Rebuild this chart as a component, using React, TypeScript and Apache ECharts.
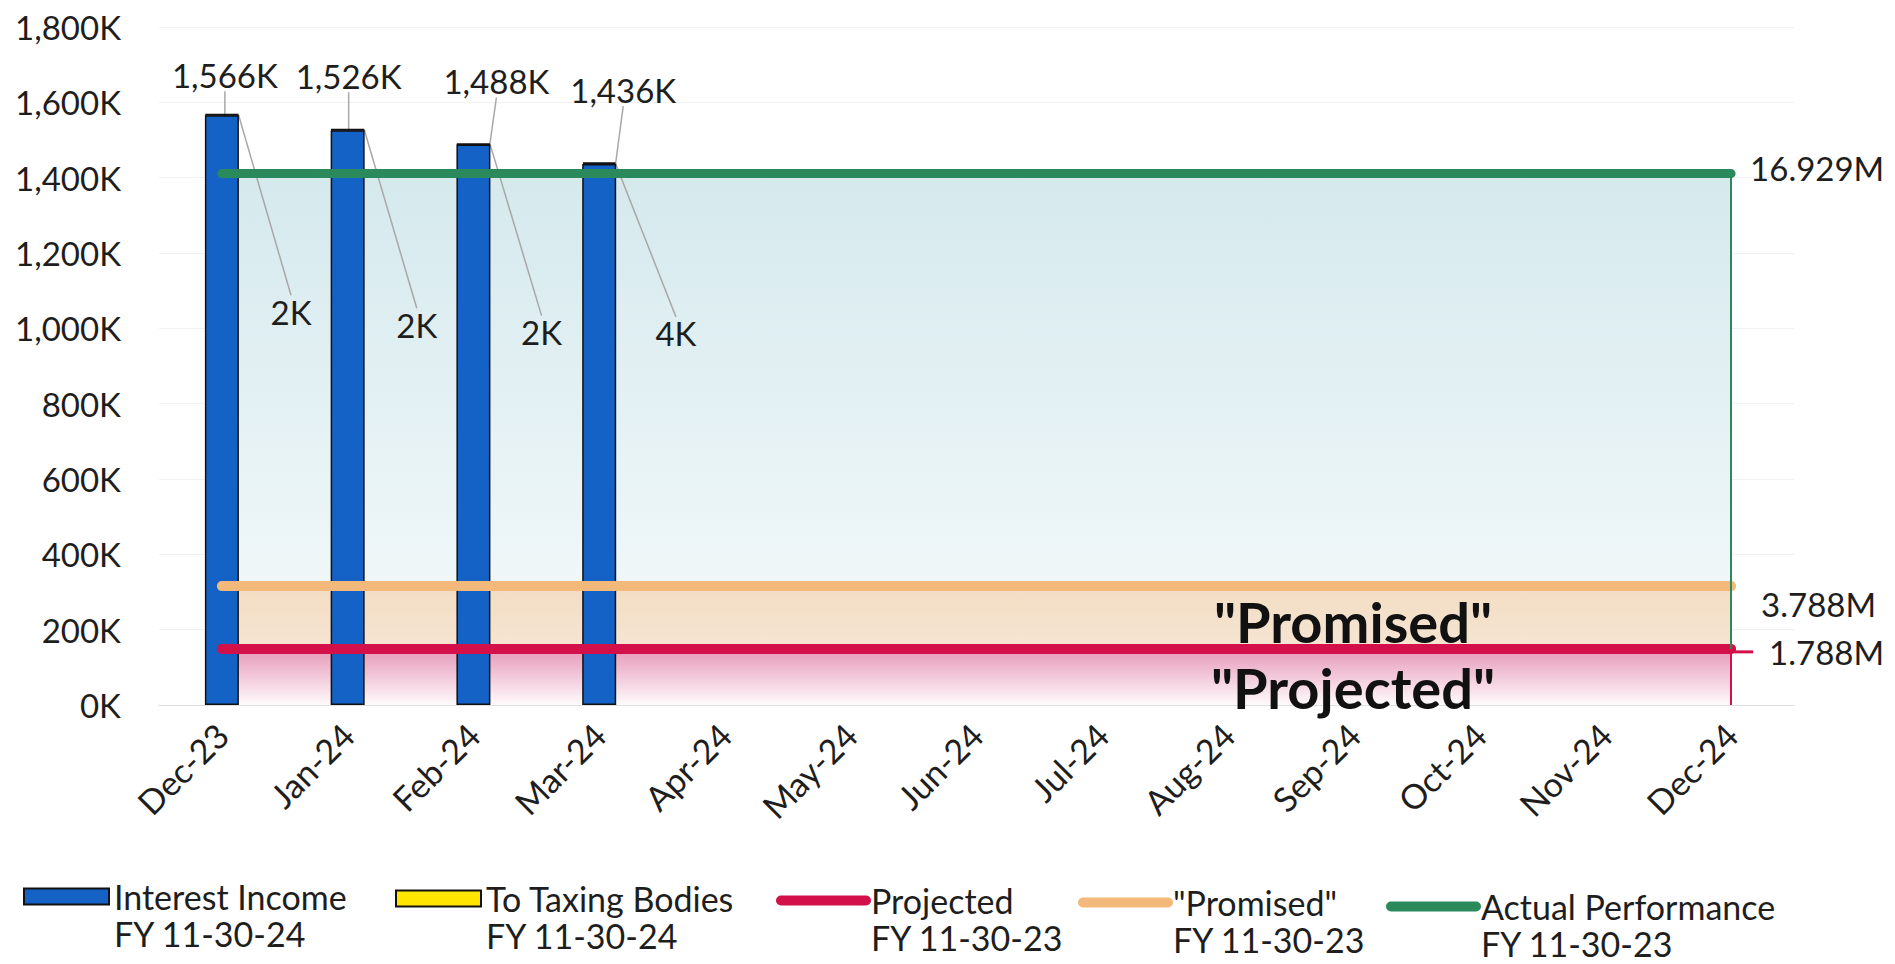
import React, { useEffect, useRef } from "react";
import * as echarts from "echarts";

const categories = ["Dec-23", "Jan-24", "Feb-24", "Mar-24", "Apr-24", "May-24", "Jun-24", "Jul-24", "Aug-24", "Sep-24", "Oct-24", "Nov-24", "Dec-24"];
const interestIncome = [1566000, 1526000, 1488000, 1436000, null, null, null, null, null, null, null, null, null];
const toTaxingBodies = [2000, 2000, 2000, 4000, null, null, null, null, null, null, null, null, null];
const projectedFY23 = [149000, 149000, 149000, 149000, 149000, 149000, 149000, 149000, 149000, 149000, 149000, 149000, 149000];
const promisedFY23 = [315667, 315667, 315667, 315667, 315667, 315667, 315667, 315667, 315667, 315667, 315667, 315667, 315667];
const actualFY23 = [1410750, 1410750, 1410750, 1410750, 1410750, 1410750, 1410750, 1410750, 1410750, 1410750, 1410750, 1410750, 1410750];
const totalLabels = { projected: "1.788M", promised: "3.788M", actual: "16.929M" };
const yMin = 0;
const yMax = 1800000;
const yInterval = 200000;
const names = {
  income: "Interest Income\nFY 11-30-24",
  taxing: "To Taxing Bodies\nFY 11-30-24",
  projected: "Projected\nFY 11-30-23",
  promised: "\"Promised\"\nFY 11-30-23",
  actual: "Actual Performance\nFY 11-30-23",
};
const legendOrder = [names.income, names.taxing, names.projected, names.promised, names.actual];
const bandTexts = ["\"Promised\"", "\"Projected\""];

const FONT = "Lato";
const TXT = "#1e1e1e";
const BLUE = "#1462c6";
const YELLOW = "#ffe500";
const RED = "#d4104a";
const ORANGE = "#f2b97a";
const GREEN = "#2a8a5c";

const incomeLabelOffsets = [[3, -19], [1, -33], [23, -42], [24, -53]];
const taxLabelOffsets = [[26, 197], [26, 195], [25, 188], [34, 170]];
const legendLefts = [18, 390, 771, 1073, 1381];
const legendTops = [836, 838, 840, 842, 846];

const fmtK = (v: number) => Math.round(v / 1000).toLocaleString("en-US") + "K";

function grad(top: string, bottom: string) {
  return new echarts.graphic.LinearGradient(0, 0, 0, 1, [
    { offset: 0, color: top },
    { offset: 1, color: bottom },
  ]);
}

function edge(values: number[], color: string) {
  const last = categories.length - 1;
  return {
    silent: true,
    symbol: "none",
    label: { show: false },
    lineStyle: { color, width: 2, type: "solid" },
    data: [[{ coord: [categories[last], values[last]] }, { coord: [categories[last], 0] }]],
  };
}

export default function App() {
  const ref = useRef<HTMLDivElement>(null);
  useEffect(() => {
    if (!ref.current) return;
    const chart = echarts.init(ref.current, undefined, { renderer: "svg" });
    const labelBase = { fontFamily: FONT, fontSize: 33, color: TXT };
    const legends = legendOrder.map((name, i) => ({
      left: legendLefts[i],
      top: legendTops[i],
      selectedMode: false,
      itemWidth: 85,
      itemHeight: 16,
      data: [i < 2 ? { name, icon: "rect" } : { name, itemStyle: { opacity: 0 } }],
      lineStyle: { width: 10, cap: "round" },
      formatter: (n: string) => "\n" + n,
      textStyle: { fontFamily: FONT, fontSize: 34, color: TXT, lineHeight: 37 },
    }));
    chart.setOption({
      animation: false,
      backgroundColor: "#ffffff",
      textStyle: { fontFamily: FONT },
      grid: { left: 159, right: 101, top: 27, bottom: 259, containLabel: false },
      legend: legends,
      xAxis: {
        type: "category",
        data: categories,
        boundaryGap: true,
        axisTick: { show: false },
        axisLine: { lineStyle: { color: "#dedede", width: 1 } },
        axisLabel: { rotate: 45, interval: 0, fontFamily: FONT, fontSize: 34, color: TXT, margin: 24 },
      },
      yAxis: {
        type: "value",
        min: yMin,
        max: yMax,
        interval: yInterval,
        axisLine: { show: false },
        axisTick: { show: false },
        splitLine: { lineStyle: { color: "#f1f1f1", width: 1 } },
        axisLabel: { formatter: (v: number) => fmtK(v), fontFamily: FONT, fontSize: 33, color: TXT, margin: 38 },
      },
      graphic: [
        { type: "text", x: 1353, y: 621, z: 10, style: { text: bandTexts[0], fontFamily: FONT, fontSize: 56, fontWeight: "bold", fill: "#111", align: "center", verticalAlign: "middle" } },
        { type: "text", x: 1353, y: 687, z: 10, style: { text: bandTexts[1], fontFamily: FONT, fontSize: 56, fontWeight: "bold", fill: "#111", align: "center", verticalAlign: "middle" } },
      ],
      series: [
        {
          name: "actualArea", type: "line", data: actualFY23, symbol: "none", silent: true, z: 1,
          lineStyle: { width: 0 }, areaStyle: { color: grad("#d5e9ed", "#f7fbfc"), opacity: 1 },
          markLine: edge(actualFY23, GREEN),
        },
        {
          name: "promisedArea", type: "line", data: promisedFY23, symbol: "none", silent: true, z: 1,
          lineStyle: { width: 0 }, areaStyle: { color: grad("#f3ddc3", "#f8ece1"), opacity: 1 },
        },
        {
          name: "projectedArea", type: "line", data: projectedFY23, symbol: "none", silent: true, z: 1,
          lineStyle: { width: 0 }, areaStyle: { color: grad("#e698b8", "#fffbfc"), opacity: 1 },
          markLine: edge(projectedFY23, RED),
        },
        {
          name: names.income, type: "bar", stack: "total", barWidth: 34, z: 2, data: interestIncome,
          itemStyle: { color: BLUE, borderColor: "#111", borderWidth: 1.5 },
          label: { show: true, position: "top", distance: 5, ...labelBase, formatter: (p: any) => fmtK(p.value) },
          labelLayout: (p: any) => ({ dx: incomeLabelOffsets[p.dataIndex][0], dy: incomeLabelOffsets[p.dataIndex][1] }),
          labelLine: { show: true, lineStyle: { color: "#a8a8a8", width: 1.5 } },
        },
        {
          name: names.taxing, type: "bar", stack: "total", barWidth: 34, z: 2, data: toTaxingBodies,
          itemStyle: { color: YELLOW, borderColor: "#111", borderWidth: 2 },
          label: { show: true, position: "right", distance: 5, ...labelBase, formatter: (p: any) => fmtK(p.value) },
          labelLayout: (p: any) => ({ dx: taxLabelOffsets[p.dataIndex][0], dy: taxLabelOffsets[p.dataIndex][1] }),
          labelLine: { show: true, lineStyle: { color: "#a8a8a8", width: 1.5 } },
        },
        {
          name: names.projected, type: "line", data: projectedFY23, symbol: "none", z: 3,
          lineStyle: { color: RED, width: 10, cap: "round" }, itemStyle: { color: RED },
          endLabel: {
            show: true, distance: 0, offset: [0, 3],
            formatter: "{dash|}{gap|}{t|" + totalLabels.projected + "}",
            rich: {
              dash: { width: 22, height: 3, backgroundColor: RED, verticalAlign: "middle" },
              gap: { width: 16 },
              t: { ...labelBase, verticalAlign: "middle" },
            },
          },
        },
        {
          name: names.promised, type: "line", data: promisedFY23, symbol: "none", z: 3,
          lineStyle: { color: ORANGE, width: 10, cap: "round" }, itemStyle: { color: ORANGE },
          endLabel: { show: true, distance: 30, offset: [0, 18], formatter: totalLabels.promised, ...labelBase },
        },
        {
          name: names.actual, type: "line", data: actualFY23, symbol: "none", z: 3,
          lineStyle: { color: GREEN, width: 9, cap: "round" }, itemStyle: { color: GREEN },
          endLabel: { show: true, distance: 19, offset: [0, -6], formatter: totalLabels.actual, ...labelBase },
        },
      ],
    });
    return () => chart.dispose();
  }, []);
  return <div ref={ref} style={{ position: "fixed", left: 0, top: 0, width: "100vw", height: "100vh" }} />;
}
